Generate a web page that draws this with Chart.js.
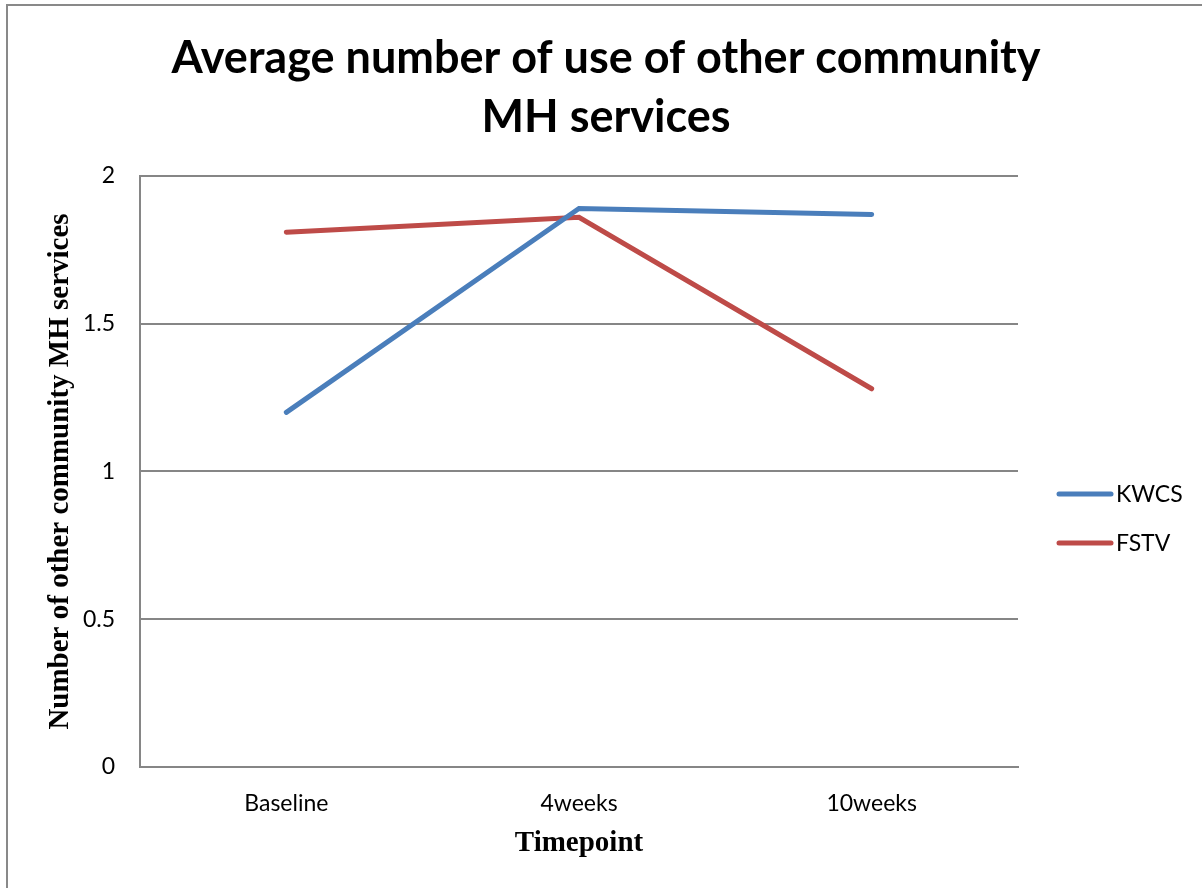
<!DOCTYPE html>
<html>
<head>
<meta charset="utf-8">
<script src="https://cdn.jsdelivr.net/npm/chart.js@4/dist/chart.umd.min.js"></script>
<style>
  html, body { margin: 0; padding: 0; background: #fff; overflow: hidden; }
  #wrap { position: absolute; left: 0; top: 0; width: 1202px; height: 888px; }
</style>
</head>
<body>
<div id="wrap"><canvas id="chart" width="1202" height="888"></canvas></div>
<script>
// timepoints and the two group means
var timepoints = ["Baseline", "4weeks", "10weeks"];
var kwcsValues = [1.2, 1.89, 1.87];
var fstvValues = [1.81, 1.86, 1.28];
var seriesNames = ["KWCS", "FSTV"];
var seriesColors = ["#4A7EBB", "#BE4B48"];

var sansFont = "Lato, 'Open Sans', sans-serif";
var serifFont = "'Liberation Serif', 'DejaVu Serif', serif";
var gridColor = "#868686";

// frame round the whole chart (only the left and top edges fall inside the window)
var framePlugin = {
	id: "frame",
	beforeDraw: function(chart) {
		var ctx = chart.ctx;
		ctx.save();
		ctx.strokeStyle = "#898989";
		ctx.lineWidth = 2;
		ctx.beginPath();
		ctx.moveTo(7, chart.height);
		ctx.lineTo(7, 5);
		ctx.lineTo(chart.width, 5);
		ctx.stroke();
		ctx.restore();
	}
};

// legend on the right, one line swatch per series
var sideLegend = {
	id: "sideLegend",
	afterDraw: function(chart) {
		var ctx = chart.ctx;
		var top = 494, gap = 49;
		ctx.save();
		chart.data.datasets.forEach(function(ds, i) {
			var y = top + i * gap;
			ctx.strokeStyle = ds.borderColor;
			ctx.lineWidth = 5;
			ctx.lineCap = "round";
			ctx.beginPath();
			ctx.moveTo(1059, y);
			ctx.lineTo(1111, y);
			ctx.stroke();
			ctx.fillStyle = "#000";
			ctx.font = "23px " + sansFont;
			ctx.textAlign = "left";
			ctx.textBaseline = "middle";
			ctx.fillText(ds.label, 1116, y + 1);
		});
		ctx.restore();
	}
};

new Chart(document.getElementById("chart"), {
	type: "line",
	data: {
		labels: timepoints,
		datasets: [
			{
				label: seriesNames[0],
				data: kwcsValues,
				borderColor: seriesColors[0],
				backgroundColor: seriesColors[0],
				borderWidth: 5,
				borderCapStyle: "round",
				pointRadius: 0,
				tension: 0
			},
			{
				label: seriesNames[1],
				data: fstvValues,
				borderColor: seriesColors[1],
				backgroundColor: seriesColors[1],
				borderWidth: 5,
				borderCapStyle: "round",
				pointRadius: 0,
				tension: 0
			}
		]
	},
	options: {
		responsive: false,
		animation: false,
		layout: { padding: { left: 10, right: 0, top: 0, bottom: 0 } },
		plugins: {
			legend: { display: false },
			tooltip: { enabled: false },
			title: {
				display: true,
				text: ["Average number of use of other community", "MH services"],
				color: "#000",
				font: { family: sansFont, size: 45, weight: "bold", lineHeight: 1.311 },
				padding: { top: 29, bottom: 29 }
			}
		},
		scales: {
			x: {
				offset: true,
				grid: { display: false },
				border: { display: true, color: gridColor, width: 2 },
				ticks: { color: "#000", font: { family: sansFont, size: 23 }, padding: 15, maxRotation: 0 },
				title: {
					display: true,
					text: "Timepoint",
					color: "#000",
					font: { family: serifFont, size: 29, weight: "bold" },
					padding: { top: 27, bottom: 27 }
				},
				afterFit: function(scale) { scale.height = 121; }
			},
			y: {
				min: 0,
				max: 2,
				grid: { color: gridColor, lineWidth: 2, drawTicks: false },
				border: { display: true, color: gridColor, width: 2 },
				ticks: {
					stepSize: 0.5,
					color: "#000",
					font: { family: sansFont, size: 23 },
					padding: 25,
					callback: function(value) { return String(value); }
				},
				title: {
					display: true,
					text: "Number of other community MH services",
					color: "#000",
					font: { family: serifFont, size: 29, weight: "bold" },
					padding: { top: 33, bottom: 33 }
				},
				afterFit: function(scale) { scale.width = 130; }
			},
			// empty strip on the right that leaves room for the legend
			legendSpace: {
				type: "linear",
				position: "right",
				display: true,
				grid: { display: false },
				border: { display: false },
				ticks: { display: false },
				afterFit: function(scale) { scale.width = 184; }
			}
		}
	},
	plugins: [framePlugin, sideLegend]
});
</script>
</body>
</html>
